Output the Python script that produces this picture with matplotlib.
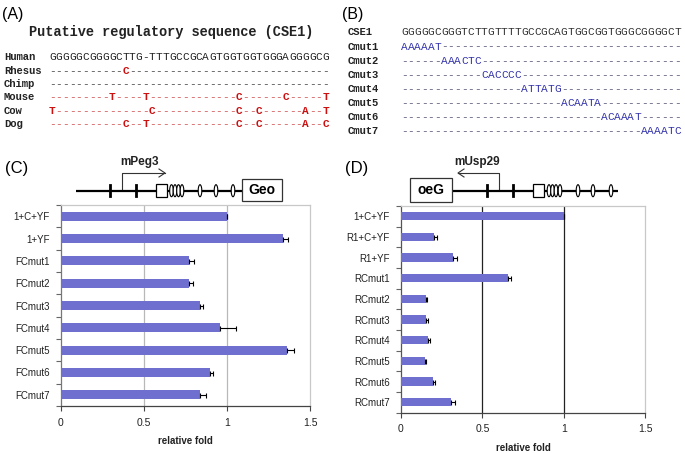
import matplotlib
matplotlib.use("Agg")
import matplotlib.pyplot as plt
from matplotlib.patches import Rectangle, Ellipse
import numpy as np

# ---------------- data ----------------
species = ["Human", "Rhesus", "Chimp", "Mouse", "Cow", "Dog"]
species_seqs = [
    "GGGGGCGGGGCTTG-TTTGCCGCAGTGGTGGTGGGAGGGGCG",
    "-----------C------------------------------",
    "------------------------------------------",
    "---------T----T-------------C------C-----T",
    "T--------------C------------C--C------A--T",
    "-----------C--T-------------C--C------A--C",
]
mut_names = ["CSE1", "Cmut1", "Cmut2", "Cmut3", "Cmut4", "Cmut5", "Cmut6", "Cmut7"]
mut_seqs = [
    "GGGGGCGGGTCTTGTTTTGCCGCAGTGGCGGTGGGCGGGGCT",
    "AAAAAT------------------------------------",
    "------AAACTC------------------------------",
    "------------CACCCC------------------------",
    "------------------ATTATG------------------",
    "------------------------ACAATA------------",
    "------------------------------ACAAAT------",
    "------------------------------------AAAATC",
]

c_labels = ["1+C+YF", "1+YF", "FCmut1", "FCmut2", "FCmut3", "FCmut4", "FCmut5", "FCmut6", "FCmut7"]
c_values = [1.00, 1.34, 0.77, 0.77, 0.84, 0.96, 1.36, 0.90, 0.84]
c_errors = [0.00, 0.025, 0.034, 0.025, 0.015, 0.095, 0.045, 0.017, 0.034]

d_labels = ["1+C+YF", "R1+C+YF", "R1+YF", "RCmut1", "RCmut2", "RCmut3", "RCmut4", "RCmut5", "RCmut6", "RCmut7"]
d_values = [1.00, 0.204, 0.321, 0.658, 0.151, 0.153, 0.168, 0.147, 0.194, 0.307]
d_errors = [0.00, 0.019, 0.024, 0.021, 0.011, 0.011, 0.008, 0.004, 0.013, 0.026]

xticks = [0, 0.5, 1, 1.5]
xtick_labels = ["0", "0.5", "1", "1.5"]

BAR = "#6f6fd0"
W, H = 685, 453

fig = plt.figure(figsize=(W / 100, H / 100), dpi=100)
fig.patch.set_facecolor("white")

# overlay for text / schematics in pixel coordinates
ov = fig.add_axes([0, 0, 1, 1])
ov.set_xlim(0, W)
ov.set_ylim(H, 0)
ov.axis("off")

mono = "Liberation Mono"
sans = "Liberation Sans"

# ---- panel A ----
ov.text(2, 14, "(A)", fontsize=11.5, family=sans, ha="left", va="center")
ov.text(171, 32, "Putative regulatory sequence (CSE1)", fontsize=9.8, family=mono,
        fontweight="bold", ha="center", va="center", color="#222222")
rowsA = [57.3, 70.7, 84, 97.5, 110.7, 123.8]
x0A, cwA = 49.0, 280.0 / 42
for k, (name, seq) in enumerate(zip(species, species_seqs)):
    y = rowsA[k]
    ov.text(4, y, name, fontsize=7.6, family=mono, fontweight="bold", ha="left", va="center",
            color="#222222")
    dash_col = "#444444" if k in (1, 2) else "#d05050"
    for i, ch in enumerate(seq):
        if k == 0:
            col = "#222222"
        elif ch == "-":
            col = dash_col
        else:
            col = "#cc1111"
        ov.text(x0A + (i + 0.5) * cwA, y, ch, fontsize=8, family=mono, ha="center",
                va="center", color=col, fontweight="bold" if (k > 0 and ch != "-") else "normal")

# ---- panel B ----
ov.text(342, 14, "(B)", fontsize=11.5, family=sans, ha="left", va="center")
rowsB = [31.7, 46.5, 61.0, 75.0, 88.8, 102.7, 116.8, 131.0]
x0B, cwB = 401.0, 279.7 / 42
for k, (name, seq) in enumerate(zip(mut_names, mut_seqs)):
    y = rowsB[k]
    ov.text(348, y, name, fontsize=7.6, family=mono, fontweight="bold", ha="left", va="center",
            color="#222222")
    for i, ch in enumerate(seq):
        if k == 0:
            col = "#333333"
        elif ch == "-":
            col = "#555577"
        else:
            col = "#3333aa"
        ov.text(x0B + (i + 0.5) * cwB, y, ch, fontsize=8, family=mono, ha="center",
                va="center", color=col)


# ---- gene schematics ----
def gene_line(x_start, x_end, y, ticks, box, ovals):
    ov.plot([x_start, x_end], [y, y], color="black", lw=1.6, solid_capstyle="butt", zorder=2)
    for t in ticks:
        ov.plot([t, t], [y - 5.5, y + 5.5], color="black", lw=2.0, zorder=3)
    ov.add_patch(Rectangle((box[0], y - 6.5), box[1] - box[0], 13, facecolor="white",
                           edgecolor="black", lw=0.9, zorder=4))
    for ox in ovals:
        ov.add_patch(Ellipse((ox, y), 3.6, 12, facecolor="white", edgecolor="black",
                             lw=0.8, zorder=4))


# C
ov.text(5, 168, "(C)", fontsize=12, family=sans, ha="left", va="center")
ov.text(140, 162, "mPeg3", fontsize=8.5, family=sans, fontweight="bold", ha="center",
        va="center", color="#222222")
ov.plot([122, 122, 165], [190, 173, 173], color="#333333", lw=0.8)
ov.plot([159, 165, 159], [169, 173, 177], color="#333333", lw=0.8)
gene_line(76, 242, 190.7, [110, 136], (156, 167),
          [171.5, 175, 178.5, 182, 200, 216, 233])
ov.add_patch(Rectangle((242, 179), 40, 22, facecolor="white", edgecolor="#333333", lw=0.9, zorder=5))
ov.text(262, 190, "Geo", fontsize=10, family=sans, fontweight="bold", ha="center", va="center",
        zorder=6)

# D
ov.text(345, 168, "(D)", fontsize=12, family=sans, ha="left", va="center")
ov.text(477, 162, "mUsp29", fontsize=8.5, family=sans, fontweight="bold", ha="center",
        va="center", color="#222222")
ov.plot([499, 499, 458], [190, 173, 173], color="#333333", lw=0.8)
ov.plot([464, 458, 464], [169, 173, 177], color="#333333", lw=0.8)
gene_line(452, 618, 190.7, [487, 513], (533, 544),
          [549, 552.5, 556, 560, 578, 593, 611])
ov.add_patch(Rectangle((410, 178), 42, 24, facecolor="white", edgecolor="#333333", lw=0.9, zorder=5))
ov.text(431, 190, "oeG", fontsize=10, family=sans, fontweight="bold", ha="center", va="center",
        zorder=6)


# ---- bar charts ----
def bar_panel(rect, labels, values, errors, grid_col, left_col):
    ax = fig.add_axes(rect)
    n = len(labels)
    y = np.arange(n)
    ax.barh(y, values, height=0.4, color=BAR, zorder=3)
    ax.errorbar(values, y, xerr=[np.zeros(n), errors], fmt="none", ecolor="black",
                elinewidth=0.8, capsize=1.8, capthick=0.8, zorder=4)
    ax.set_xlim(0, 1.5)
    ax.set_ylim(n - 0.5, -0.5)
    ax.set_xticks(xticks)
    ax.set_xticklabels(xtick_labels, fontsize=7.5, family=sans, color="#222222")
    ax.set_yticks(y)
    ax.set_yticklabels(labels, fontsize=7, family=sans, color="#222222")
    ax.tick_params(axis="y", length=0, pad=8)
    ax.set_yticks(np.arange(n + 1) - 0.5, minor=True)
    ax.tick_params(axis="y", which="minor", length=3.5, width=0.8, color="#666666")
    ax.tick_params(axis="x", length=3.5, width=0.8, color="#444444", pad=5)
    for gx in (0.5, 1.0):
        ax.axvline(gx, color=grid_col, lw=0.9, zorder=1)
    ax.spines["left"].set_color(left_col)
    ax.spines["bottom"].set_color("#444444")
    ax.spines["top"].set_color("#c8c8c8")
    ax.spines["right"].set_color("#c8c8c8")
    for s in ax.spines.values():
        s.set_linewidth(0.9)
    ax.set_xlabel("relative fold", fontsize=7, family=sans, fontweight="bold", labelpad=6,
                  color="#222222")
    return ax


bar_panel([61 / W, 1 - 406 / H, (310 - 61) / W, (406 - 205) / H],
          c_labels, c_values, c_errors, "#b8b8b8", "#777777")
bar_panel([401 / W, 1 - 412.5 / H, (645 - 401) / W, (412.5 - 206) / H],
          d_labels, d_values, d_errors, "#222222", "#555555")

fig.savefig("out.png", dpi=100, facecolor="white")
